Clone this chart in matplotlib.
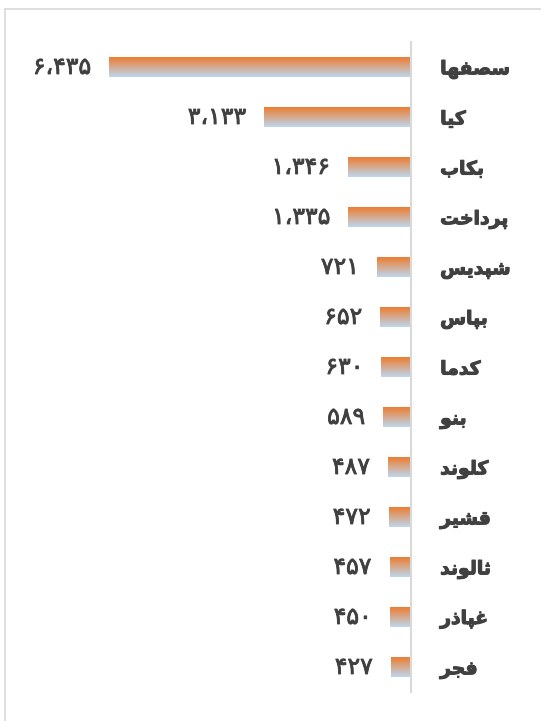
import numpy as np
import matplotlib
matplotlib.use("Agg")
import matplotlib.pyplot as plt
import matplotlib.patheffects as pe
from matplotlib.colors import LinearSegmentedColormap
from matplotlib.lines import Line2D

# data, top to bottom
names = ["سصفها", "کیا", "بکاب", "پرداخت", "شپدیس", "بپاس", "کدما",
         "بنو", "کلوند", "قشیر", "ثالوند", "غپاذر", "فجر"]
values = [6435, 3133, 1346, 1335, 721, 652, 630, 589, 487, 472, 457, 450, 427]

# arabic presentation forms: isolated, final, initial, medial
FORMS = {
    'ا': ('\uFE8D', '\uFE8E', None, None),
    'ب': ('\uFE8F', '\uFE90', '\uFE91', '\uFE92'),
    'ت': ('\uFE95', '\uFE96', '\uFE97', '\uFE98'),
    'ث': ('\uFE99', '\uFE9A', '\uFE9B', '\uFE9C'),
    'ج': ('\uFE9D', '\uFE9E', '\uFE9F', '\uFEA0'),
    'خ': ('\uFEA5', '\uFEA6', '\uFEA7', '\uFEA8'),
    'د': ('\uFEA9', '\uFEAA', None, None),
    'ذ': ('\uFEAB', '\uFEAC', None, None),
    'ر': ('\uFEAD', '\uFEAE', None, None),
    'س': ('\uFEB1', '\uFEB2', '\uFEB3', '\uFEB4'),
    'ش': ('\uFEB5', '\uFEB6', '\uFEB7', '\uFEB8'),
    'ص': ('\uFEB9', '\uFEBA', '\uFEBB', '\uFEBC'),
    'غ': ('\uFECD', '\uFECE', '\uFECF', '\uFED0'),
    'ف': ('\uFED1', '\uFED2', '\uFED3', '\uFED4'),
    'ق': ('\uFED5', '\uFED6', '\uFED7', '\uFED8'),
    'ل': ('\uFEDD', '\uFEDE', '\uFEDF', '\uFEE0'),
    'م': ('\uFEE1', '\uFEE2', '\uFEE3', '\uFEE4'),
    'ن': ('\uFEE5', '\uFEE6', '\uFEE7', '\uFEE8'),
    'ه': ('\uFEE9', '\uFEEA', '\uFEEB', '\uFEEC'),
    'و': ('\uFEED', '\uFEEE', None, None),
    'پ': ('\uFB56', '\uFB57', '\uFB58', '\uFB59'),
    'ک': ('\uFB8E', '\uFB8F', '\uFB90', '\uFB91'),
    'ی': ('\uFBFC', '\uFBFD', '\uFBFE', '\uFBFF'),
}


def shape(word):
    # join letters and reverse for left-to-right drawing
    out = []
    for i, ch in enumerate(word):
        iso, fin, ini, med = FORMS[ch]
        joins_prev = i > 0 and FORMS[word[i - 1]][2] is not None
        joins_next = ini is not None and i < len(word) - 1
        if joins_prev and joins_next:
            out.append(med)
        elif joins_prev:
            out.append(fin)
        elif joins_next:
            out.append(ini)
        else:
            out.append(iso)
    return ''.join(reversed(out))


def fa_num(v):
    return f"{v:,}".translate(str.maketrans("0123456789,", "۰۱۲۳۴۵۶۷۸۹،"))


W, H = 541, 721
fig = plt.figure(figsize=(W / 100, H / 100), dpi=100)
ax = fig.add_axes([4 / W, (H - 692) / H, (411 - 4) / W, 650 / H])

y = np.arange(len(values))
bars = ax.barh(y, values, height=0.4, color="none")

cmap = LinearSegmentedColormap.from_list("og", ["#ED7D31", "#BDD7EE"])
grad = np.linspace(0, 1, 64).reshape(-1, 1)
for b in bars:
    x0, y0 = b.get_x(), b.get_y()
    ax.imshow(grad, cmap=cmap, aspect="auto", interpolation="bicubic",
              extent=(x0, x0 + b.get_width(), y0 + b.get_height(), y0),
              origin="upper", zorder=2)

for yi, v in zip(y, values):
    ax.annotate(fa_num(v), (v, yi), xytext=(-13, 0), textcoords="offset points",
                ha="right", va="center", fontsize=17, color="#404040",
                path_effects=[pe.withStroke(linewidth=0.6, foreground="#404040")])

ax.set_xlim(407 / 0.04693, 0)
ax.set_ylim(12.5, -0.5)

ax.yaxis.tick_right()
ax.set_yticks(y)
ax.set_yticklabels([shape(n) for n in names], fontsize=13.5, fontweight="bold",
                   color="#404040",
                   path_effects=[pe.withStroke(linewidth=0.8, foreground="#404040")])
ax.tick_params(axis="y", length=0, pad=21)
ax.set_xticks([])
for s in ["top", "bottom", "left"]:
    ax.spines[s].set_visible(False)
ax.spines["right"].set_color("#D9D9D9")
ax.spines["right"].set_linewidth(1.5)
ax.patch.set_alpha(0)

# chart border
fig.add_artist(Line2D([4.5 / W, 1], [1 - 9 / H, 1 - 9 / H], color="#D9D9D9", lw=1.2))
fig.add_artist(Line2D([4.5 / W, 4.5 / W], [0, 1 - 9 / H], color="#D9D9D9", lw=1.2))

fig.savefig("out.png", dpi=100)
